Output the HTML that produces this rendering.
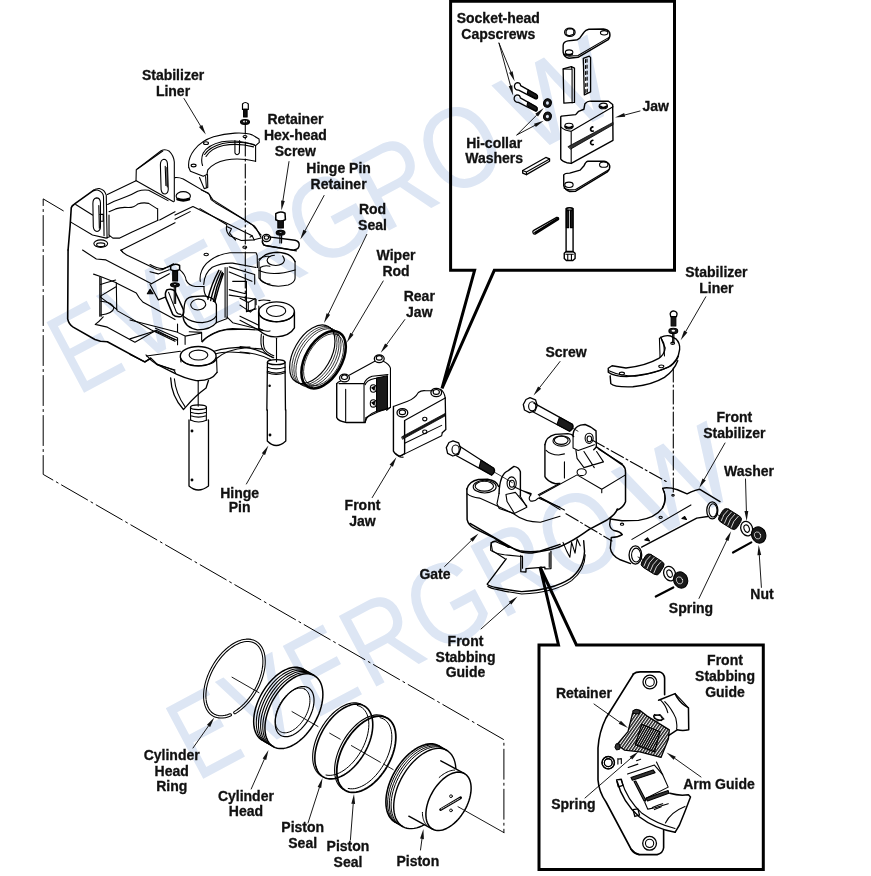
<!DOCTYPE html>
<html><head><meta charset="utf-8">
<style>
html,body{margin:0;padding:0;background:#fff;}
body{width:871px;height:876px;overflow:hidden;}
svg{display:block;}
#art *{vector-effect:non-scaling-stroke;}
.t{font-family:"Liberation Sans",sans-serif;font-weight:bold;font-size:14px;fill:#111;stroke:#111;stroke-width:0.3px;text-anchor:middle;}
.wm{font-family:"Liberation Sans",sans-serif;font-size:116px;fill:rgb(221,230,244);mix-blend-mode:multiply;}
</style></head><body>
<svg width="871" height="876" viewBox="0 0 871 876">
<defs>
<pattern id="hatchA" patternUnits="userSpaceOnUse" width="2.5" height="2.5" patternTransform="rotate(35)"><rect width="2.5" height="2.5" fill="#fff"/><rect width="1.4" height="2.5" fill="#1a1a1a"/></pattern>
<pattern id="hatchB" patternUnits="userSpaceOnUse" width="2.1" height="2.1" patternTransform="rotate(30)"><rect width="2.1" height="2.1" fill="#fff"/><rect width="1.5" height="2.1" fill="#111"/></pattern>
</defs>
<g id="art" fill="none" stroke="#000" stroke-width="1.1" stroke-linejoin="round" stroke-linecap="round">
<g transform="translate(55.0 140.0) scale(0.137773)">
<path d="M95,798 L110,620 L118,492 Q122,476 140,466 L282,364" stroke-width="1.6"/>
<path d="M272,372 Q292,350 322,352 Q360,360 372,400 L378,712"/>
<path d="M282,368 Q305,360 318,366 Q350,380 352,410 L356,695"/>
<path d="M300,420 Q275,425 275,460 L278,630 Q282,662 305,664 Q330,660 330,630 L330,455 Q328,420 300,420 Z"/>
<path d="M318,475 L322,640 M328,540 L350,540 L350,590 L330,590"/>
<path d="M150,468 L272,545"/>
<path d="M118,598 L272,690 L372,712 L400,700"/>
<ellipse cx="332" cy="752" rx="50" ry="27"/>
<ellipse cx="332" cy="760" rx="30" ry="13"/>
<path d="M380,395 L588,296"/>
<path d="M588,296 L590,215 L770,78 Q800,62 830,82 Q862,112 866,160 L866,445"/>
<path d="M598,210 L782,80"/>
<path d="M790,140 Q765,145 765,180 L770,360 Q775,392 800,392 Q822,386 822,356 L816,170 Q812,140 790,140 Z"/>
<path d="M800,190 L805,330 M812,200 L815,340"/>
<path d="M590,296 L860,448"/>
<path d="M382,468 L430,445 Q470,430 520,410 Q560,395 600,372 Q640,358 680,365 L820,440"/>
<path d="M392,520 L440,500 Q480,485 530,490 Q570,492 600,465 Q640,450 680,460 L740,498"/>
<path d="M745,498 L745,580 M392,545 L392,690"/>
<path d="M392,690 L420,712 L470,712 L560,668 L748,582"/>
<path d="M760,580 L871,520"/>
<path d="M478,800 L700,690 L871,600"/>
<path d="M478,800 L490,812"/>
</g>
<g transform="translate(175.0 120.0) scale(0.137773)">
<path d="M100,345 C88,260 160,160 280,122 C380,92 500,86 560,108 L610,138 L612,162 L585,186 L585,300"/>
<path d="M585,186 Q470,140 340,158 Q240,180 205,240 Q185,285 200,330"/>
<path d="M575,178 Q460,150 345,170 Q250,195 215,250"/>
<path d="M570,195 Q460,165 350,185 Q260,205 225,265"/>
<path d="M585,300 Q470,272 370,290 Q280,308 238,362 L232,395"/>
<path d="M100,345 L112,372 L205,408 L232,395"/>
<path d="M178,418 L212,498 L238,490 L236,396"/>
<path d="M222,410 L228,490"/>
<ellipse cx="225" cy="168" rx="18" ry="10"/>
<ellipse cx="135" cy="330" rx="18" ry="10"/>
<ellipse cx="508" cy="120" rx="14" ry="8"/>
<path d="M435,150 L435,240 Q450,265 467,240 L469,150"/>
<path d="M0,418 Q30,415 60,428 L250,540 L262,578 L292,600 L500,722 L565,765 L625,835"/>
<ellipse cx="60" cy="552" rx="52" ry="32"/>
<path d="M20,575 Q60,590 100,575" stroke-width="3"/>
<path d="M0,690 L130,628 L560,840"/>
<path d="M0,720 L110,665"/>
<path d="M545,850 L560,840 L575,871"/>
<path d="M380,775 L410,790 L395,820 L420,850 L440,871"/>
</g>
<g transform="translate(200.0 190.0) scale(0.137773)">
<path d="M10,0 L60,22 L92,70 L380,252 Q396,258 410,282 L442,342"/>
<path d="M0,135 L195,252 Q182,300 215,332 L300,366 L390,362 L442,348"/>
<ellipse cx="45" cy="468" rx="16" ry="9"/>
<ellipse cx="325" cy="415" rx="14" ry="8"/>
<path d="M550,172 Q582,148 617,168 L620,215 Q585,236 550,216 Z" stroke-width="1.5"/>
<path d="M565,225 L565,275 L605,275 L605,222" fill="#111"/>
<ellipse cx="585" cy="310" rx="32" ry="18" fill="#111"/>
<ellipse cx="585" cy="308" rx="14" ry="7" fill="#fff"/>
<path d="M580,330 L580,385 M592,330 L592,385"/>
<path d="M500,340 L690,365 Q720,372 720,398 Q720,432 680,436 L480,405 Q450,395 452,368" stroke-width="1.4"/>
<path d="M455,380 L462,400 L700,442"/>
<ellipse cx="482" cy="348" rx="30" ry="26" stroke-width="1.4"/>
<ellipse cx="482" cy="345" rx="16" ry="13"/>
<path d="M430,510 Q470,455 560,452 Q660,455 690,520" stroke-width="1.3"/>
<path d="M600,478 Q613,495 613,511 Q605,545 550,548 Q490,545 487,511 Q492,478 540,474"/>
<path d="M428,520 L428,640 Q500,720 640,690 Q690,670 690,640 L690,520"/>
<path d="M428,585 Q530,630 690,580"/>
</g>
<g transform="translate(55.0 250.0) scale(0.137773)">
<path d="M95,0 L92,500 Q100,540 132,560 L290,650 L330,662 L380,666 L650,812 L690,790" stroke-width="1.6"/>
<path d="M200,0 Q260,40 300,65 L370,72 L600,192 L700,245"/>
<path d="M480,0 Q490,22 520,36 L740,142 Q770,152 800,132 L860,100"/>
<path d="M280,175 L330,192 L445,238 L448,432"/>
<path d="M325,195 L325,480 M335,200 L335,480"/>
<path d="M330,250 Q390,232 440,218 M330,335 L440,268 M330,342 L450,432"/>
<path d="M332,372 Q420,380 428,420 Q420,462 332,472"/>
<path d="M450,440 L700,580 L871,662"/>
<path d="M445,240 L590,312 Q610,352 640,380 L871,505"/>
<path d="M350,485 Q320,520 292,540 L380,560 L580,670 L735,582 L871,652"/>
<path d="M700,245 L830,172 M690,250 L750,362 L800,342"/>
<path d="M670,318 L690,285 L712,318 Z" fill="#111"/>
<path d="M660,762 L700,802 L740,832 L871,871"/>
</g>
<g transform="translate(130.0 300.0) scale(0.137773)">
<ellipse cx="495" cy="408" rx="130" ry="70" stroke-width="1.4"/>
<path d="M366,420 Q380,470 497,478 Q615,470 628,425"/>
<ellipse cx="497" cy="400" rx="68" ry="36"/>
<path d="M366,415 L370,450 M628,420 L632,525"/>
<path d="M0,282 L180,225 L342,292"/>
<path d="M0,395 L110,450 L150,420 L200,470 L300,520 Q390,568 480,585 Q590,590 632,525" stroke-width="1.3"/>
<path d="M120,407 L366,372"/>
<path d="M190,462 L320,510 L330,530"/>
<path d="M295,565 Q300,700 388,795 L414,767 Q470,700 552,639 L570,583" stroke-width="1.3"/>
<path d="M322,572 Q332,680 398,772"/>
<path d="M495,590 L495,770"/>
<ellipse cx="497" cy="778" rx="58" ry="17" stroke-width="1.3"/>
<path d="M439,778 L440,871 M555,778 L554,871 M441,815 Q497,835 553,815 M441,840 Q497,860 553,840"/>
<path d="M0,145 L340,232"/>
<path d="M345,175 L345,235 L400,262 L400,322 M400,262 L520,240 L520,292 M430,230 L520,235"/>
<path d="M520,300 Q600,232 700,215 L871,212"/>
<path d="M610,372 Q700,342 871,342 M625,390 Q700,365 871,390"/>
</g>
<g transform="translate(150.0 240.0) scale(0.137773)">
<path d="M0,178 Q60,212 100,206 L150,188"/>
<path d="M0,230 L60,246 L140,216"/>
<path d="M150,190 Q180,165 215,185 L215,215 Q180,232 150,215 Z" stroke-width="1.5"/>
<path d="M165,225 L165,298 L200,298 L200,222 Z" fill="#111"/>
<ellipse cx="181" cy="325" rx="32" ry="15" fill="#111"/>
<ellipse cx="181" cy="322" rx="14" ry="6" fill="#fff"/>
<path d="M125,360 Q105,380 115,420 L165,540 Q185,562 225,556 Q252,540 240,500 L180,370 Q160,350 125,360 Z" stroke-width="1.5"/>
<path d="M135,380 L190,520 Q200,540 225,540"/>
<path d="M176,340 L176,460 M186,340 L186,460"/>
<path d="M215,215 Q258,250 262,292 Q280,332 330,337 L392,337"/>
<path d="M365,300 Q355,230 410,170 Q480,105 580,92 L770,92 L778,112 L780,200"/>
<path d="M390,322 Q395,240 452,198 Q520,165 600,168 L770,200"/>
<path d="M392,337 L392,360 Q395,400 420,420"/>
<path d="M420,430 Q445,320 500,220 M440,440 Q465,330 515,225 M460,445 Q480,340 525,235 M470,450 Q495,350 532,245" stroke-width="1.4"/>
<path d="M545,200 L545,560 M560,200 L560,560"/>
<path d="M250,470 Q255,420 305,412 L390,405 Q468,412 482,470 L482,600 Q440,652 345,652 Q250,635 240,560 Z" stroke-width="1.3"/>
<path d="M295,470 Q300,440 340,430 Q400,425 405,470 Q395,505 345,508 Q300,505 295,470"/>
<path d="M245,555 Q300,600 380,600 Q460,590 482,550"/>
<path d="M480,600 L560,570 L560,560"/>
<path d="M575,195 L760,250 L760,320 M575,232 L740,300 M575,360 L700,392 L700,520 M600,300 L700,300 L700,392 M575,400 L770,430 L770,470 M700,520 L770,500"/>
<path d="M380,740 Q450,652 600,642 L820,655 M480,862 Q560,792 700,782 L820,792"/>
<path d="M560,560 L600,600 L820,655"/>
<path d="M790,440 Q820,430 871,440 M790,480 L790,640 Q830,670 871,660"/>
<path d="M790,140 Q830,110 871,120 M800,200 Q830,180 871,190 M800,200 L800,290 Q830,320 871,320"/>
<path d="M40,640 L200,712 L200,760"/>
</g>
<g transform="translate(240.0 290.0) scale(0.137773)">
<ellipse cx="265" cy="158" rx="130" ry="72" stroke-width="1.4"/>
<path d="M137,170 Q150,220 265,230 Q380,222 393,170"/>
<ellipse cx="262" cy="152" rx="70" ry="40"/>
<path d="M135,160 L137,292 Q200,345 265,340 Q360,335 395,275 L395,160" stroke-width="1.4"/>
<path d="M0,60 L60,90 L110,62 L110,130 L75,160 M60,90 L60,150 L75,160"/>
<path d="M0,110 L60,150 M0,190 L135,255 M0,220 L135,290"/>
<path d="M155,320 Q145,400 165,432 Q190,470 245,492"/>
<path d="M170,335 Q165,400 180,430 Q200,460 245,478"/>
<path d="M0,410 Q120,420 240,492"/>
<path d="M0,450 Q120,455 220,505"/>
<path d="M265,350 L265,520"/>
<ellipse cx="263" cy="524" rx="64" ry="18" stroke-width="1.3"/>
<path d="M199,524 L199,545 L195,871 M327,524 L327,545 L330,871" stroke-width="1.3"/>
<path d="M198,560 Q262,585 328,560 M198,590 Q262,615 328,590 M198,600 Q262,625 328,600"/>
<circle cx="215" cy="695" r="5" fill="#111"/>
</g>
<g transform="translate(0.0 0.0) scale(1.000000)">
<path d="M189,420 L189,486 Q198,494 208.5,486 L208.5,420" stroke-width="1.3"/>
<path d="M190.5,420 Q198.5,424 207,420" />
<circle cx="192" cy="431" r="0.9" fill="#111"/>
<circle cx="192" cy="480" r="0.9" fill="#111"/>
<path d="M267.3,410 L267.3,441 Q276,450 285.8,441 L285.8,410" stroke-width="1.3"/>
<circle cx="270" cy="435" r="0.9" fill="#111"/>
<path d="M242.5,104 Q245.3,101 248.3,104 L248.3,109.4 L242.5,109.4 Z" stroke-width="1.2"/>
<path d="M243.6,109.4 L243.6,117 L247.1,117 L247.1,109.4 Z" fill="#111"/>
<ellipse cx="245" cy="122" rx="4.5" ry="2.5" fill="#111"/>
<ellipse cx="245" cy="121.6" rx="2" ry="1" fill="#fff" stroke="none"/>
</g>
<g transform="translate(0.0 0.0) scale(1.000000)">
<g transform="rotate(-60 312.3 354.3)">
<ellipse cx="312.3" cy="354.3" rx="32.1" ry="18.5" stroke-width="1.2"/>
</g>
<g transform="rotate(-60 314.5 355.5)"><ellipse cx="314.5" cy="355.5" rx="32" ry="18.5" stroke-width="0.8"/></g>
<g transform="rotate(-60 316.5 356.7)"><ellipse cx="316.5" cy="356.7" rx="32" ry="18.5" stroke-width="0.8"/></g>
<g transform="rotate(-60 318.5 357.8)"><ellipse cx="318.5" cy="357.8" rx="32" ry="18.5" stroke-width="0.8"/></g>
<g transform="rotate(-60 323.6 359.7)">
<ellipse cx="323.6" cy="359.7" rx="31.4" ry="18.1" stroke-width="2.6"/>
<ellipse cx="323.6" cy="359.7" rx="28.6" ry="16.2" stroke-width="0.8"/>
</g>
</g>
<g transform="translate(330.0 340.0) scale(0.149254)">
<path d="M45,292 L45,520 Q55,546 110,553 L235,553 L242,520" stroke-width="1.4"/>
<path d="M45,292 Q55,278 70,276"/>
<ellipse cx="97" cy="254" rx="33" ry="26" stroke-width="1.3"/>
<ellipse cx="97" cy="250" rx="20" ry="15"/>
<ellipse cx="330" cy="125" rx="33" ry="26" stroke-width="1.3"/>
<ellipse cx="330" cy="120" rx="20" ry="15"/>
<path d="M128,236 L300,142"/>
<path d="M355,140 Q398,160 405,188 L405,450 L380,472"/>
<path d="M60,292 L228,292 Q240,258 282,243 L388,232"/>
<path d="M235,300 Q245,270 300,258 L385,250"/>
<path d="M312,255 L385,240 L385,462 L312,478 Z" fill="#1a1a1a"/>
<path d="M105,330 L105,545 M228,292 L228,553"/>
<ellipse cx="290" cy="325" rx="20" ry="25"/>
<ellipse cx="290" cy="425" rx="20" ry="25"/>
<path d="M280,320 L298,312 L296,335 Z M280,420 L298,412 L296,435 Z" fill="#111"/>
<path d="M242,520 L320,482 L405,452"/>
<path d="M235,553 Q242,505 312,478"/>
<path d="M425,445 L425,745 Q440,772 470,778 L500,762 L500,540" stroke-width="1.4"/>
<path d="M425,445 L520,410 Q570,392 592,352 Q612,336 642,340 L692,340"/>
<path d="M500,540 L772,388"/>
<path d="M470,778 L748,642 L752,622"/>
<path d="M772,388 L776,600 L752,622" stroke-width="1.3"/>
<path d="M740,330 Q765,345 772,388"/>
<path d="M482,648 L772,492 L772,508 L488,664 Z" fill="#1a1a1a" stroke-width="0.8"/>
<path d="M500,692 L748,572"/>
<ellipse cx="635" cy="530" rx="14" ry="12"/>
<ellipse cx="635" cy="615" rx="14" ry="12"/>
<ellipse cx="485" cy="488" rx="36" ry="28" stroke-width="1.3"/>
<ellipse cx="485" cy="484" rx="21" ry="16"/>
<ellipse cx="712" cy="352" rx="36" ry="28" stroke-width="1.3"/>
<ellipse cx="712" cy="348" rx="21" ry="16"/>
<path d="M440,760 Q460,790 490,785"/>
</g>
<g transform="translate(490.0 20.0) scale(0.149254)">
<path d="M490,172 L490,215 Q495,250 530,256 L590,250 L792,132 Q808,112 802,86 Q792,62 760,60 L662,62 Q640,66 630,82 L602,120 Q586,136 560,136 L522,140 Q490,146 490,172 Z" stroke-width="1.4"/>
<path d="M495,225 Q500,240 530,242 L590,238 L795,118"/>
<ellipse cx="530" cy="216" rx="25" ry="16"/>
<ellipse cx="765" cy="86" rx="25" ry="15"/>
<path d="M510,230 Q530,238 550,228" stroke-width="2"/>
<ellipse cx="535" cy="82" rx="35" ry="28" stroke-width="1.3"/>
<path d="M510,75 L520,60 L550,58 L562,72 L560,95 L530,106 L510,98 Z"/>
<path d="M490,328 L545,312 L566,322 L566,552 L495,557 Z" stroke-width="1.3"/>
<path d="M490,328 L550,330 L550,555 M545,312 L550,330"/>
<path d="M625,257 L665,242 L674,252 L674,482 L632,502 Z" stroke-width="1.3"/>
<path d="M640,265 L642,490 M650,262 L652,485" stroke-dasharray="3 3"/>
<path d="M182,420 Q162,425 164,450 Q170,472 192,470 L305,528 Q322,530 318,510 L310,498 L205,440 Q205,422 182,420 Z" stroke-width="1.3"/>
<path d="M255,468 L318,505 L312,528 L250,492 Z" fill="#1a1a1a"/>
<path d="M180,502 Q160,507 162,532 Q168,554 190,552 L303,610 Q320,612 316,592 L308,580 L203,522 Q203,504 180,502 Z" stroke-width="1.3"/>
<path d="M253,550 L316,587 L310,610 L248,574 Z" fill="#1a1a1a"/>
<ellipse cx="385" cy="556" rx="26" ry="29" fill="#1a1a1a" transform="rotate(20 385 556)"/>
<ellipse cx="385" cy="556" rx="10" ry="12" fill="#fff" stroke="none"/>
<ellipse cx="385" cy="646" rx="26" ry="29" fill="#1a1a1a" transform="rotate(20 385 646)"/>
<ellipse cx="385" cy="646" rx="10" ry="12" fill="#fff" stroke="none"/>
</g>
<g transform="translate(510.0 100.0) scale(0.149254)">
<path d="M345,108 L440,98 L460,76 L495,62 L502,25 Q520,5 542,8 L660,8 L688,30 L690,270 L410,425 L380,420 Q348,410 340,395 L340,112 Z" stroke-width="1.4"/>
<path d="M340,180 Q368,206 410,210 L690,45 M410,210 L410,425"/>
<ellipse cx="395" cy="175" rx="28" ry="19"/>
<path d="M372,178 Q395,195 418,178" stroke-width="2"/>
<ellipse cx="625" cy="40" rx="28" ry="19"/>
<path d="M602,43 Q625,60 648,43" stroke-width="2"/>
<path d="M390,312 L690,150 L690,166 L408,328 Z" fill="#333" stroke-width="0.8"/>
<path d="M555,180 Q538,185 540,200 Q545,212 558,208 M555,270 Q538,275 540,290 Q545,302 558,298" stroke-width="1.6"/>
<path d="M85,472 L240,385 L265,395 L265,410 L110,500 L85,490 Z" stroke-width="1.3"/>
<path d="M85,472 L110,482 L265,395 M110,482 L110,500"/>
<path d="M360,502 L360,575 Q370,606 400,613 L440,611 L652,482 Q672,462 668,440 Q660,415 630,410 L522,410 Q506,415 496,440 L470,470 L400,490 Q368,490 360,502 Z" stroke-width="1.4"/>
<path d="M362,590 Q380,602 400,602 L440,600 L664,466"/>
<ellipse cx="395" cy="568" rx="28" ry="18"/>
<ellipse cx="628" cy="433" rx="28" ry="18"/>
</g>
<g transform="translate(520 190) scale(0.091827)">
<path d="M502,205 L502,670 L578,670 L578,205 Q540,185 502,205 Z" stroke-width="1.4"/>
<ellipse cx="540" cy="205" rx="38" ry="14"/>
<path d="M505,225 L530,225 L530,410 L505,410 Z M550,225 L575,225 L575,410 L550,410 Z" fill="#1a1a1a"/>
<path d="M482,690 L500,672 L580,672 L600,690 L600,745 L575,768 L505,768 L482,745 Z" stroke-width="1.4"/>
<path d="M500,700 L580,700 M520,705 L520,765 M560,705 L560,765"/>
<path d="M140,450 Q140,485 165,480 L420,320 Q425,295 400,298 L150,440 Z" stroke-width="1.3"/>
<path d="M165,465 L410,312" stroke-width="2.2"/>
</g>
<g transform="translate(595.0 295.0) scale(0.126292)">
<path d="M105,580 L135,560 L245,578 Q400,562 505,502 Q550,472 555,420 L520,335 Q560,315 600,325 L640,347 Q676,382 670,432 Q660,522 580,572 Q450,632 250,646 Q150,646 105,612 Z" stroke-width="1.4"/>
<path d="M120,640 L125,702 Q150,732 300,727 Q450,712 550,652 Q625,600 655,520" stroke-width="1.4"/>
<path d="M110,600 Q200,642 320,642 Q480,622 600,562 Q650,522 662,482"/>
<path d="M510,340 L515,492 M545,382 L550,482 M520,335 L545,382"/>
<ellipse cx="213" cy="622" rx="20" ry="11"/>
<ellipse cx="525" cy="565" rx="20" ry="11"/>
<ellipse cx="615" cy="382" rx="15" ry="9"/>
<path d="M595,150 Q600,125 622,125 Q648,128 650,150 L645,172 L600,172 Z" stroke-width="1.3"/>
<path d="M603,172 L603,245 L640,245 L640,172 Z" fill="#1a1a1a"/>
<ellipse cx="620" cy="285" rx="35" ry="22" fill="#1a1a1a"/>
<ellipse cx="620" cy="283" rx="14" ry="8" fill="#fff" stroke="none"/>
<path d="M615,300 L615,380 M625,300 L625,380"/>
</g>
<g transform="translate(460.0 460.0) scale(0.114811)">
<path d="M60,252 Q80,185 160,170 L240,168 Q318,180 336,230" stroke-width="1.4"/>
<ellipse cx="215" cy="232" rx="100" ry="55"/>
<ellipse cx="212" cy="228" rx="80" ry="43"/>
<path d="M60,252 L62,520 Q74,572 125,595 L300,680 Q400,755 520,790 Q610,806 700,792 L871,735" stroke-width="1.5"/>
<path d="M64,295 Q95,322 170,332 L330,402 L470,470 Q560,540 700,542 L871,490"/>
<path d="M340,292 Q345,122 420,92 L470,56 Q512,62 526,102 L526,312" stroke-width="1.4"/>
<ellipse cx="450" cy="202" rx="40" ry="55"/>
<ellipse cx="452" cy="206" rx="22" ry="30"/>
<path d="M340,292 L322,382 L342,422 L472,466 L582,412 L522,312"/>
<path d="M400,300 L410,362 L472,462 M400,300 L482,282 L582,402"/>
<path d="M470,232 L620,302 Q590,332 612,356 Q652,366 682,332 L871,412 M526,262 L620,292"/>
<path d="M682,302 L871,202 M692,322 L871,432"/>
<path d="M270,720 L282,790 L392,860 M270,720 Q300,700 332,706 L422,762"/>
</g>
<g transform="translate(530 410) scale(0.114811)">
<path d="M130,302 Q140,232 220,212 L330,206 Q368,210 380,232" stroke-width="1.4"/>
<ellipse cx="275" cy="270" rx="75" ry="45"/>
<ellipse cx="272" cy="264" rx="60" ry="35"/>
<path d="M130,302 L130,580 Q150,622 222,642 L255,640" stroke-width="1.4"/>
<path d="M140,352 Q180,392 250,392 L300,382 M300,452 L300,592"/>
<path d="M375,212 Q380,152 440,132 L480,126 Q530,142 575,182 L578,322 L555,347" stroke-width="1.4"/>
<path d="M375,212 L375,332 L420,352 L560,302"/>
<ellipse cx="515" cy="247" rx="35" ry="45"/>
<ellipse cx="517" cy="252" rx="20" ry="25"/>
<path d="M400,352 L410,422 L470,502 L640,452 L580,362 M470,362 L560,502"/>
<ellipse cx="450" cy="542" rx="40" ry="30"/>
<path d="M578,322 L810,482 Q832,502 832,542 L832,800 Q812,852 760,871" stroke-width="1.5"/>
<path d="M600,342 L805,470"/>
<path d="M80,745 L410,565 L625,690 L625,720 M90,762 L300,871 M625,690 L832,565"/>
</g>
<g transform="translate(470 520) scale(0.172216)">
<path d="M0,20 L270,176 Q310,196 360,191 L470,171 Q560,151 690,56" stroke-width="1.5"/>
<path d="M120,150 Q122,122 150,126 L230,160 M120,150 L120,176 Q140,192 200,202 L300,212"/>
<path d="M100,372 L210,226 M100,372 Q110,392 300,416 Q480,406 580,342 Q660,282 665,182 L660,120" stroke-width="1.4"/>
<path d="M104,386 Q122,402 300,430 Q490,422 590,352 Q666,292 669,202"/>
<path d="M295,206 L295,300 L325,302 L325,282 L435,274 L435,284 L470,282 L470,182" stroke-width="1.3"/>
<path d="M305,210 L305,280 M460,190 L460,275"/>
<path d="M540,130 L562,182 L580,216 L590,130 L610,192 L622,110 L640,150"/>
</g>
<g transform="translate(0.0 0.0) scale(1.000000)">
<path d="M526,399.5 L530,397.7 L535.5,399.8 L537.2,405.5 L535,411 L529.5,412.6 L524.5,410 L523.3,404.5 Z" stroke-width="1.3"/>
<ellipse cx="532.2" cy="406.3" rx="3.6" ry="4.6"/>
<path d="M533.9,403.1 L572.5,424.4 Q574.8,428.2 569.7,431.2 L532.3,411.5" stroke-width="1.2"/>
<path d="M559.5,417.3 L572.5,424.4 Q573.5,428 569.7,431.2 L557,424.4 Z" fill="#1a1a1a"/>
<path d="M573.5,428.7 L578,431.2" stroke-width="0.8"/>
<path d="M449,442.5 L453,440.8 L458.6,442.8 L460.6,448.5 L458.5,454.3 L452.8,456 L447.6,453.4 L446.3,447.6 Z" stroke-width="1.3"/>
<ellipse cx="455.6" cy="449.6" rx="3.6" ry="4.6"/>
<path d="M459.3,446.1 L493.7,468.2 Q496.3,472 491.7,475.1 L456.5,455.8" stroke-width="1.2"/>
<path d="M481,460.2 L493.7,468.2 Q495,472 491.7,475.1 L479,467.8 Z" fill="#1a1a1a"/>
<path d="M495,472.5 L512.3,482.6" stroke-width="0.8"/>
<path d="M588.8,529.6 L607,520 Q616,514 617.3,509" stroke-width="1.5"/>
</g>
<g transform="translate(0.0 0.0) scale(1.000000)">
<g transform="translate(730 519) rotate(32)">
<rect x="-10.5" y="-7.5" width="21" height="15" rx="4" fill="#1a1a1a" stroke-width="1"/>
<path d="M-6.5,-6 Q-8.5,0 -6.5,6 M-2.5,-6.5 Q-4.5,0 -2.5,6.5 M1.5,-6.5 Q-0.5,0 1.5,6.5 M5.5,-6.5 Q3.5,0 5.5,6.5" stroke="#fff" stroke-width="0.8"/>
</g>
<g transform="translate(652.6 564.4) rotate(32)">
<rect x="-10.5" y="-7.5" width="21" height="15" rx="4" fill="#1a1a1a" stroke-width="1"/>
<path d="M-6.5,-6 Q-8.5,0 -6.5,6 M-2.5,-6.5 Q-4.5,0 -2.5,6.5 M1.5,-6.5 Q-0.5,0 1.5,6.5 M5.5,-6.5 Q3.5,0 5.5,6.5" stroke="#fff" stroke-width="0.8"/>
</g>
<g transform="rotate(-20 746.7 528.6)"><ellipse cx="746.7" cy="528.6" rx="5.8" ry="7.4" stroke-width="1.3"/><ellipse cx="746.7" cy="528.6" rx="2.6" ry="3.8"/></g>
<g transform="rotate(-20 669.6 573.6)"><ellipse cx="669.6" cy="573.6" rx="5.8" ry="7.4" stroke-width="1.3"/><ellipse cx="669.6" cy="573.6" rx="2.6" ry="3.8"/></g>
<g transform="rotate(-20 758.7 535)"><ellipse cx="758.7" cy="535" rx="7" ry="8.2" fill="#1a1a1a"/><ellipse cx="757.5" cy="535" rx="3" ry="3.6" stroke="#fff" stroke-width="0.7"/></g>
<g transform="rotate(-20 680.6 580)"><ellipse cx="680.6" cy="580" rx="7" ry="8.2" fill="#1a1a1a"/><ellipse cx="679.5" cy="580" rx="3" ry="3.6" stroke="#fff" stroke-width="0.7"/></g>
<path d="M733,552.5 L751.3,542.4" stroke-width="2.2"/>
<path d="M655.8,596.5 L673.3,587.4" stroke-width="2.2"/>
<path d="M716,514 L722,517 M638,557 L644,560" stroke-width="0.8"/>
</g>
<g transform="translate(600.0 460.0) scale(0.137773)">
<path d="M455,206 Q492,282 456,346 Q400,422 280,438 L160,441 L75,428" stroke-width="1.4"/>
<path d="M455,206 Q470,198 520,204 L562,216 L632,246 Q662,230 692,220 L722,212 L871,302" stroke-width="1.4"/>
<path d="M466,228 Q482,300 450,350"/>
<path d="M75,428 L70,470 Q75,502 102,512 Q150,522 162,542 Q130,562 82,562 L75,640 Q82,692 142,722 L222,752" stroke-width="1.4"/>
<path d="M302,632 L702,422 L782,410" stroke-width="1.4"/>
<path d="M232,576 L660,326"/>
<ellipse cx="815" cy="366" rx="40" ry="62" stroke-width="1.3"/>
<ellipse cx="820" cy="366" rx="29" ry="48"/>
<ellipse cx="257" cy="690" rx="46" ry="66" stroke-width="1.3"/>
<ellipse cx="262" cy="690" rx="33" ry="50"/>
<ellipse cx="160" cy="466" rx="12" ry="8"/>
<ellipse cx="440" cy="416" rx="12" ry="8"/>
<ellipse cx="530" cy="256" rx="9" ry="6"/>
<path d="M325,580 L345,565 L360,588 Z M595,425 L615,410 L628,432 Z" fill="#111"/>
</g>
<g transform="translate(0.0 0.0) scale(1.000000)">
<path d="M230.26,714.94 L227.71,715.87 L225.20,716.51 L222.77,716.86 L220.43,716.92 L218.19,716.69 L216.08,716.17 L214.11,715.35 L212.29,714.26 L210.64,712.89 L209.18,711.26 L207.91,709.38 L206.84,707.27 L205.98,704.94 L205.34,702.40 L204.92,699.68 L204.72,696.80 L204.76,693.78 L205.02,690.65 L205.51,687.42 L206.21,684.13 L207.14,680.79 L208.27,677.44 L209.60,674.09 L211.12,670.78 L212.82,667.53 L214.68,664.36 L216.70,661.31 L218.85,658.38 L221.12,655.61 L223.49,653.02 L225.95,650.62 L228.47,648.44 L231.03,646.49 L233.62,644.78 L236.22,643.33 L238.80,642.15 L241.35,641.25 L243.85,640.64 L246.27,640.32 L248.61,640.29 L250.83,640.55 L252.93,641.10 L254.89,641.95 L256.69,643.07 L258.32,644.46 L259.76,646.12 L261.01,648.02 L262.06,650.16 L262.90,652.52 L263.52,655.07 L263.91,657.81 L264.08,660.70 L264.02,663.73 L263.74,666.88 L263.23,670.11 L262.50,673.41 L261.56,676.75 L260.41,680.11 L259.05,683.45 L257.51,686.76 L255.80,690.00 L253.92,693.15 L251.89,696.20 L249.72,699.11 L247.44,701.86 L245.06,704.44 L242.60,706.81 L240.07,708.97 L237.50,710.90 L234.91,712.58" stroke-width="3.4" />
<path d="M230.26,714.94 L227.71,715.87 L225.20,716.51 L222.77,716.86 L220.43,716.92 L218.19,716.69 L216.08,716.17 L214.11,715.35 L212.29,714.26 L210.64,712.89 L209.18,711.26 L207.91,709.38 L206.84,707.27 L205.98,704.94 L205.34,702.40 L204.92,699.68 L204.72,696.80 L204.76,693.78 L205.02,690.65 L205.51,687.42 L206.21,684.13 L207.14,680.79 L208.27,677.44 L209.60,674.09 L211.12,670.78 L212.82,667.53 L214.68,664.36 L216.70,661.31 L218.85,658.38 L221.12,655.61 L223.49,653.02 L225.95,650.62 L228.47,648.44 L231.03,646.49 L233.62,644.78 L236.22,643.33 L238.80,642.15 L241.35,641.25 L243.85,640.64 L246.27,640.32 L248.61,640.29 L250.83,640.55 L252.93,641.10 L254.89,641.95 L256.69,643.07 L258.32,644.46 L259.76,646.12 L261.01,648.02 L262.06,650.16 L262.90,652.52 L263.52,655.07 L263.91,657.81 L264.08,660.70 L264.02,663.73 L263.74,666.88 L263.23,670.11 L262.50,673.41 L261.56,676.75 L260.41,680.11 L259.05,683.45 L257.51,686.76 L255.80,690.00 L253.92,693.15 L251.89,696.20 L249.72,699.11 L247.44,701.86 L245.06,704.44 L242.60,706.81 L240.07,708.97 L237.50,710.90 L234.91,712.58" stroke-width="1.3" stroke="#fff"/>
<path d="M314.40,675.69 L316.11,676.86 L317.65,678.29 L319.00,679.97 L320.17,681.88 L321.14,684.02 L321.90,686.37 L322.44,688.90 L322.77,691.60 L322.88,694.46 L322.77,697.44 L322.44,700.52 L321.89,703.69 L321.13,706.91 L320.16,710.17 L318.99,713.44 L317.64,716.68 L316.10,719.89 L314.39,723.03 L312.52,726.08 L310.52,729.01 L308.38,731.82 L306.14,734.46 L303.80,736.93 L301.39,739.20 L298.92,741.25 L296.42,743.08 L293.89,744.67 L291.36,746.00 L288.86,747.07 L286.39,747.86 L283.98,748.38 L281.64,748.61 L279.40,748.56 L277.27,748.22 L275.26,747.60 L273.40,746.71 L271.69,745.54 L270.15,744.11 L268.80,742.43 L267.63,740.52 L266.66,738.38 L265.90,736.03 L265.36,733.50 L265.03,730.80 L264.92,727.94 L265.03,724.96 L265.36,721.88 L265.91,718.71 L266.67,715.49 L267.64,712.23 L268.81,708.96 L270.16,705.72 L271.70,702.51 L273.41,699.37 L275.28,696.32 L277.28,693.39 L279.42,690.58 L281.66,687.94 L284.00,685.47 L286.41,683.20 L288.88,681.15 L291.38,679.32 L293.91,677.73 L296.44,676.40 L298.94,675.33 L301.41,674.54 L303.82,674.02 L306.16,673.79 L308.40,673.84 L310.53,674.18 L312.54,674.80 L314.40,675.69 Z" stroke-width="1.5" />
<path d="M271.23,745.46 L269.53,744.29 L267.99,742.86 L266.63,741.18 L265.46,739.27 L264.50,737.13 L263.74,734.78 L263.19,732.25 L262.86,729.55 L262.75,726.69 L262.86,723.71 L263.19,720.63 L263.74,717.46 L264.50,714.24 L265.47,710.98 L266.64,707.71 L268.00,704.47 L269.54,701.26 L271.25,698.12 L273.11,695.07 L275.12,692.14 L277.25,689.33 L279.49,686.69 L281.83,684.22 L284.24,681.95 L286.71,679.90 L289.22,678.07 L291.74,676.48 L294.27,675.15 L296.78,674.08 L299.25,673.29 L301.66,672.77 L303.99,672.54 L306.23,672.59 L308.37,672.93 L310.37,673.55 L312.23,674.44" stroke-width="1.1" />
<path d="M269.07,744.21 L267.36,743.04 L265.82,741.61 L264.47,739.93 L263.30,738.02 L262.33,735.88 L261.57,733.53 L261.03,731.00 L260.70,728.30 L260.59,725.44 L260.70,722.46 L261.03,719.38 L261.58,716.21 L262.34,712.99 L263.31,709.73 L264.48,706.46 L265.83,703.22 L267.37,700.01 L269.08,696.87 L270.95,693.82 L272.95,690.89 L275.09,688.08 L277.33,685.44 L279.67,682.97 L282.08,680.70 L284.55,678.65 L287.05,676.82 L289.58,675.23 L292.11,673.90 L294.61,672.83 L297.08,672.04 L299.49,671.52 L301.83,671.29 L304.07,671.34 L306.20,671.68 L308.21,672.30 L310.07,673.19" stroke-width="1.1" />
<path d="M266.90,742.96 L265.20,741.79 L263.66,740.36 L262.30,738.68 L261.13,736.77 L260.17,734.63 L259.41,732.28 L258.86,729.75 L258.53,727.05 L258.42,724.19 L258.53,721.21 L258.86,718.13 L259.41,714.96 L260.17,711.74 L261.14,708.48 L262.31,705.21 L263.67,701.97 L265.21,698.76 L266.92,695.62 L268.78,692.57 L270.79,689.64 L272.92,686.83 L275.16,684.19 L277.50,681.72 L279.91,679.45 L282.38,677.40 L284.89,675.57 L287.41,673.98 L289.94,672.65 L292.45,671.58 L294.92,670.79 L297.33,670.27 L299.66,670.04 L301.90,670.09 L304.04,670.43 L306.04,671.05 L307.90,671.94" stroke-width="1.1" />
<path d="M264.74,741.71 L263.03,740.54 L261.49,739.11 L260.14,737.43 L258.97,735.52 L258.00,733.38 L257.24,731.03 L256.70,728.50 L256.37,725.80 L256.26,722.94 L256.37,719.96 L256.70,716.88 L257.25,713.71 L258.01,710.49 L258.98,707.23 L260.15,703.96 L261.50,700.72 L263.04,697.51 L264.75,694.37 L266.62,691.32 L268.62,688.39 L270.76,685.58 L273.00,682.94 L275.34,680.47 L277.75,678.20 L280.22,676.15 L282.72,674.32 L285.25,672.73 L287.78,671.40 L290.28,670.33 L292.75,669.54 L295.16,669.02 L297.50,668.79 L299.74,668.84 L301.87,669.18 L303.88,669.80 L305.74,670.69" stroke-width="1.1" />
<path d="M262.14,740.21 L260.43,739.04 L258.90,737.61 L257.54,735.93 L256.37,734.02 L255.40,731.88 L254.64,729.53 L254.10,727.00 L253.77,724.30 L253.66,721.44 L253.77,718.46 L254.10,715.38 L254.65,712.21 L255.41,708.99 L256.38,705.73 L257.55,702.46 L258.91,699.22 L260.45,696.01 L262.16,692.87 L264.02,689.82 L266.03,686.89 L268.16,684.08 L270.40,681.44 L272.74,678.97 L275.15,676.70 L277.62,674.65 L280.13,672.82 L282.65,671.23 L285.18,669.90 L287.68,668.83 L290.15,668.04 L292.56,667.52 L294.90,667.29 L297.14,667.34 L299.27,667.68 L301.28,668.30 L303.14,669.19" stroke-width="1.5" />
<path d="M314.40,675.69 L303.14,669.19" stroke-width="1.4" />
<path d="M273.40,746.71 L262.14,740.21" stroke-width="1.4" />
<path d="M308.34,687.78 L309.49,688.57 L310.52,689.52 L311.43,690.65 L312.21,691.93 L312.86,693.37 L313.37,694.94 L313.74,696.64 L313.96,698.46 L314.03,700.37 L313.96,702.37 L313.74,704.44 L313.37,706.56 L312.86,708.73 L312.21,710.91 L311.42,713.10 L310.51,715.28 L309.48,717.43 L308.33,719.53 L307.08,721.58 L305.74,723.55 L304.31,725.43 L302.80,727.20 L301.24,728.86 L299.62,730.38 L297.96,731.76 L296.28,732.99 L294.59,734.05 L292.89,734.94 L291.21,735.66 L289.56,736.19 L287.94,736.54 L286.37,736.69 L284.87,736.66 L283.44,736.43 L282.09,736.02 L280.84,735.42 L279.70,734.63 L278.67,733.68 L277.75,732.55 L276.97,731.27 L276.32,729.83 L275.81,728.26 L275.45,726.56 L275.23,724.74 L275.15,722.83 L275.23,720.83 L275.45,718.76 L275.82,716.64 L276.33,714.47 L276.98,712.29 L277.76,710.10 L278.67,707.92 L279.71,705.77 L280.85,703.67 L282.10,701.62 L283.45,699.65 L284.88,697.77 L286.38,696.00 L287.95,694.34 L289.57,692.82 L291.22,691.44 L292.90,690.21 L294.60,689.15 L296.29,688.26 L297.97,687.54 L299.63,687.01 L301.25,686.66 L302.81,686.51 L304.32,686.54 L305.75,686.77 L307.09,687.18 L308.34,687.78 Z" stroke-width="1.2" />
<path d="M304.85,689.23 L305.87,689.93 L306.79,690.78 L307.60,691.79 L308.30,692.93 L308.88,694.21 L309.33,695.61 L309.66,697.12 L309.85,698.74 L309.92,700.45 L309.85,702.23 L309.66,704.07 L309.33,705.96 L308.87,707.89 L308.29,709.84 L307.60,711.79 L306.78,713.73 L305.86,715.64 L304.84,717.52 L303.73,719.34 L302.53,721.10 L301.26,722.77 L299.92,724.35 L298.52,725.82 L297.08,727.18 L295.60,728.41 L294.10,729.50 L292.60,730.45 L291.09,731.25 L289.59,731.88 L288.11,732.36 L286.67,732.67 L285.28,732.80 L283.94,732.77 L282.66,732.57 L281.46,732.20 L280.35,731.67 L279.33,730.97 L278.41,730.12 L277.60,729.11 L276.90,727.97 L276.32,726.69 L275.87,725.29 L275.54,723.78 L275.35,722.16 L275.28,720.45 L275.35,718.67 L275.55,716.83 L275.87,714.94 L276.33,713.01 L276.91,711.06 L277.61,709.11 L278.42,707.17 L279.34,705.26 L280.36,703.38 L281.47,701.56 L282.67,699.80 L283.95,698.13 L285.29,696.55 L286.68,695.08 L288.12,693.72 L289.60,692.49 L291.10,691.40 L292.61,690.45 L294.12,689.65 L295.61,689.02 L297.09,688.54 L298.53,688.23 L299.93,688.10 L301.27,688.13 L302.54,688.33 L303.74,688.70 L304.85,689.23 Z" stroke-width="1.0" />
<path d="M364.30,705.99 L366.01,707.16 L367.55,708.59 L368.90,710.27 L370.07,712.18 L371.04,714.32 L371.80,716.67 L372.34,719.20 L372.67,721.90 L372.78,724.76 L372.67,727.74 L372.34,730.82 L371.79,733.99 L371.03,737.21 L370.06,740.47 L368.89,743.74 L367.54,746.98 L366.00,750.19 L364.29,753.33 L362.42,756.38 L360.42,759.31 L358.28,762.12 L356.04,764.76 L353.70,767.23 L351.29,769.50 L348.82,771.55 L346.32,773.38 L343.79,774.97 L341.26,776.30 L338.76,777.37 L336.29,778.16 L333.88,778.68 L331.54,778.91 L329.30,778.86 L327.17,778.52 L325.16,777.90 L323.30,777.01 L321.59,775.84 L320.05,774.41 L318.70,772.73 L317.53,770.82 L316.56,768.68 L315.80,766.33 L315.26,763.80 L314.93,761.10 L314.82,758.24 L314.93,755.26 L315.26,752.18 L315.81,749.01 L316.57,745.79 L317.54,742.53 L318.71,739.26 L320.06,736.02 L321.60,732.81 L323.31,729.67 L325.18,726.62 L327.18,723.69 L329.32,720.88 L331.56,718.24 L333.90,715.77 L336.31,713.50 L338.78,711.45 L341.28,709.62 L343.81,708.03 L346.34,706.70 L348.84,705.63 L351.31,704.84 L353.72,704.32 L356.06,704.09 L358.30,704.14 L360.43,704.48 L362.44,705.10 L364.30,705.99 Z" stroke-width="1.6" />
<path d="M321.13,775.76 L319.43,774.59 L317.89,773.16 L316.53,771.48 L315.36,769.57 L314.40,767.43 L313.64,765.08 L313.09,762.55 L312.76,759.85 L312.65,756.99 L312.76,754.01 L313.09,750.93 L313.64,747.76 L314.40,744.54 L315.37,741.28 L316.54,738.01 L317.90,734.77 L319.44,731.56 L321.15,728.42 L323.01,725.37 L325.02,722.44 L327.15,719.63 L329.39,716.99 L331.73,714.52 L334.14,712.25 L336.61,710.20 L339.12,708.37 L341.64,706.78 L344.17,705.45 L346.68,704.38 L349.15,703.59 L351.56,703.07 L353.89,702.84 L356.13,702.89 L358.27,703.23 L360.27,703.85 L362.13,704.74" stroke-width="1.1" />
<path d="M357.25,705.49 L359.14,706.07 L360.88,706.91 L362.49,708.00 L363.93,709.34 L365.21,710.92 L366.30,712.72 L367.21,714.73 L367.92,716.93 L368.44,719.31 L368.75,721.85 L368.85,724.53 L368.75,727.33 L368.43,730.22 L367.92,733.20 L367.21,736.23 L366.30,739.28 L365.20,742.35 L363.92,745.40 L362.48,748.41 L360.87,751.36 L359.12,754.22 L357.24,756.98 L355.23,759.61 L353.13,762.09 L350.93,764.41 L348.67,766.54 L346.35,768.47 L344.00,770.19 L341.63,771.68 L339.25,772.93 L336.90,773.93 L334.58,774.68 L332.32,775.16 L330.13,775.38 L328.02,775.33 L326.02,775.01" stroke-width="1.0" />
<path d="M387.20,718.10 L388.94,719.29 L390.51,720.75 L391.89,722.46 L393.08,724.41 L394.07,726.59 L394.84,728.98 L395.40,731.56 L395.74,734.32 L395.85,737.23 L395.73,740.27 L395.40,743.42 L394.84,746.64 L394.06,749.93 L393.08,753.25 L391.88,756.58 L390.50,759.89 L388.93,763.16 L387.19,766.36 L385.29,769.47 L383.24,772.46 L381.07,775.32 L378.78,778.01 L376.40,780.53 L373.94,782.84 L371.42,784.94 L368.87,786.81 L366.29,788.42 L363.72,789.78 L361.16,790.87 L358.64,791.68 L356.19,792.20 L353.80,792.44 L351.52,792.39 L349.34,792.04 L347.30,791.41 L345.40,790.50 L343.66,789.31 L342.09,787.85 L340.71,786.14 L339.52,784.19 L338.53,782.01 L337.76,779.62 L337.20,777.04 L336.86,774.28 L336.75,771.37 L336.87,768.33 L337.20,765.18 L337.76,761.96 L338.54,758.67 L339.52,755.35 L340.72,752.02 L342.10,748.71 L343.67,745.44 L345.41,742.24 L347.31,739.13 L349.36,736.14 L351.53,733.28 L353.82,730.59 L356.20,728.07 L358.66,725.76 L361.18,723.66 L363.73,721.79 L366.31,720.18 L368.88,718.82 L371.44,717.73 L373.96,716.92 L376.41,716.40 L378.80,716.16 L381.08,716.21 L383.26,716.56 L385.30,717.19 L387.20,718.10 Z" stroke-width="1.8" />
<path d="M343.24,789.25 L341.49,788.06 L339.93,786.60 L338.54,784.89 L337.35,782.94 L336.37,780.76 L335.59,778.37 L335.03,775.79 L334.70,773.03 L334.59,770.12 L334.70,767.08 L335.04,763.93 L335.60,760.71 L336.37,757.42 L337.36,754.10 L338.55,750.77 L339.94,747.46 L341.51,744.19 L343.25,740.99 L345.15,737.88 L347.19,734.89 L349.37,732.03 L351.66,729.34 L354.04,726.82 L356.50,724.51 L359.01,722.41 L361.57,720.54 L364.14,718.93 L366.72,717.57 L369.28,716.48 L371.79,715.67 L374.25,715.15 L376.63,714.91 L378.92,714.96 L381.09,715.31 L383.14,715.94 L385.03,716.85" stroke-width="1.1" />
<path d="M380.04,717.65 L381.95,718.25 L383.74,719.10 L385.37,720.22 L386.84,721.58 L388.14,723.19 L389.25,725.02 L390.18,727.06 L390.90,729.31 L391.43,731.73 L391.74,734.31 L391.84,737.04 L391.74,739.89 L391.42,742.84 L390.90,745.87 L390.17,748.95 L389.24,752.07 L388.13,755.19 L386.83,758.29 L385.36,761.36 L383.72,764.36 L381.94,767.27 L380.02,770.08 L377.98,772.76 L375.84,775.29 L373.60,777.65 L371.30,779.82 L368.94,781.79 L366.54,783.53 L364.13,785.05 L361.71,786.32 L359.31,787.34 L356.95,788.10 L354.65,788.60 L352.42,788.82 L350.27,788.77 L348.23,788.45" stroke-width="1.0" />
<path d="M232.0,677.2 L259.0,692.7 M292.0,711.6 L318.0,726.5 M329.7,733.2 L340.2,739.2 M351.4,745.6 L380.4,762.3 M383.6,764.1 L393.2,769.6" stroke-width="0.9" />
<path d="M395.00,822.10 L393.17,820.85 L391.52,819.32 L390.06,817.52 L388.81,815.46 L387.77,813.17 L386.95,810.65 L386.37,807.93 L386.01,805.03 L385.90,801.97 L386.02,798.77 L386.37,795.46 L386.96,792.06 L387.78,788.60 L388.82,785.10 L390.07,781.60 L391.53,778.12 L393.18,774.68 L395.01,771.31 L397.02,768.03 L399.17,764.88 L401.46,761.88 L403.86,759.04 L406.37,756.39 L408.96,753.95 L411.61,751.75 L414.30,749.78 L417.01,748.08 L419.72,746.65 L422.41,745.51 L425.06,744.65 L427.65,744.10 L430.15,743.85 L432.56,743.91 L434.85,744.27 L437.00,744.93 L439.00,745.90 L446.79,750.40 L448.63,751.65 L450.28,753.18 L451.73,754.98 L452.99,757.04 L454.02,759.33 L454.84,761.85 L455.43,764.57 L455.78,767.47 L455.90,770.53 L455.78,773.73 L455.42,777.04 L454.83,780.44 L454.02,783.90 L452.98,787.40 L451.72,790.90 L450.27,794.38 L448.61,797.82 L446.78,801.19 L444.78,804.47 L442.63,807.62 L440.34,810.62 L437.93,813.46 L435.42,816.11 L432.83,818.55 L430.19,820.75 L427.49,822.72 L424.78,824.42 L422.07,825.85 L419.38,826.99 L416.73,827.85 L414.15,828.40 L411.64,828.65 L409.23,828.59 L406.95,828.23 L404.79,827.57 L402.79,826.60 Z" fill="#fff" stroke="none"/>
<path d="M395.00,822.10 L393.17,820.85 L391.52,819.32 L390.06,817.52 L388.81,815.46 L387.77,813.17 L386.95,810.65 L386.37,807.93 L386.01,805.03 L385.90,801.97 L386.02,798.77 L386.37,795.46 L386.96,792.06 L387.78,788.60 L388.82,785.10 L390.07,781.60 L391.53,778.12 L393.18,774.68 L395.01,771.31 L397.02,768.03 L399.17,764.88 L401.46,761.88 L403.86,759.04 L406.37,756.39 L408.96,753.95 L411.61,751.75 L414.30,749.78 L417.01,748.08 L419.72,746.65 L422.41,745.51 L425.06,744.65 L427.65,744.10 L430.15,743.85 L432.56,743.91 L434.85,744.27 L437.00,744.93 L439.00,745.90" stroke-width="1.6" />
<path d="M396.73,823.10 L394.90,821.85 L393.25,820.32 L391.79,818.52 L390.54,816.46 L389.50,814.17 L388.69,811.65 L388.10,808.93 L387.75,806.03 L387.63,802.97 L387.75,799.77 L388.10,796.46 L388.69,793.06 L389.51,789.60 L390.55,786.10 L391.80,782.60 L393.26,779.12 L394.91,775.68 L396.75,772.31 L398.75,769.03 L400.90,765.88 L403.19,762.88 L405.60,760.04 L408.10,757.39 L410.69,754.95 L413.34,752.75 L416.03,750.78 L418.74,749.08 L421.45,747.65 L424.14,746.51 L426.79,745.65 L429.38,745.10 L431.89,744.85 L434.29,744.91 L436.58,745.27 L438.73,745.93 L440.73,746.90" stroke-width="1.0" />
<path d="M398.46,824.10 L396.63,822.85 L394.98,821.32 L393.52,819.52 L392.27,817.46 L391.23,815.17 L390.42,812.65 L389.83,809.93 L389.48,807.03 L389.36,803.97 L389.48,800.77 L389.84,797.46 L390.42,794.06 L391.24,790.60 L392.28,787.10 L393.53,783.60 L394.99,780.12 L396.64,776.68 L398.48,773.31 L400.48,770.03 L402.63,766.88 L404.92,763.88 L407.33,761.04 L409.84,758.39 L412.42,755.95 L415.07,753.75 L417.76,751.78 L420.47,750.08 L423.18,748.65 L425.87,747.51 L428.52,746.65 L431.11,746.10 L433.62,745.85 L436.02,745.91 L438.31,746.27 L440.46,746.93 L442.46,747.90" stroke-width="1.0" />
<path d="M400.20,825.10 L398.36,823.85 L396.71,822.32 L395.26,820.52 L394.00,818.46 L392.97,816.17 L392.15,813.65 L391.56,810.93 L391.21,808.03 L391.09,804.97 L391.21,801.77 L391.57,798.46 L392.16,795.06 L392.97,791.60 L394.01,788.10 L395.27,784.60 L396.72,781.12 L398.38,777.68 L400.21,774.31 L402.21,771.03 L404.36,767.88 L406.65,764.88 L409.06,762.04 L411.57,759.39 L414.16,756.95 L416.80,754.75 L419.50,752.78 L422.21,751.08 L424.92,749.65 L427.61,748.51 L430.26,747.65 L432.84,747.10 L435.35,746.85 L437.76,746.91 L440.04,747.27 L442.20,747.93 L444.20,748.90" stroke-width="1.0" />
<path d="M446.79,750.40 L448.63,751.65 L450.28,753.18 L451.73,754.98 L452.99,757.04 L454.02,759.33 L454.84,761.85 L455.43,764.57 L455.78,767.47 L455.90,770.53 L455.78,773.73 L455.42,777.04 L454.83,780.44 L454.02,783.90 L452.98,787.40 L451.72,790.90 L450.27,794.38 L448.61,797.82 L446.78,801.19 L444.78,804.47 L442.63,807.62 L440.34,810.62 L437.93,813.46 L435.42,816.11 L432.83,818.55 L430.19,820.75 L427.49,822.72 L424.78,824.42 L422.07,825.85 L419.38,826.99 L416.73,827.85 L414.15,828.40 L411.64,828.65 L409.23,828.59 L406.95,828.23 L404.79,827.57 L402.79,826.60 L400.96,825.35 L399.31,823.82 L397.85,822.02 L396.60,819.96 L395.56,817.67 L394.75,815.15 L394.16,812.43 L393.81,809.53 L393.69,806.47 L393.81,803.27 L394.17,799.96 L394.75,796.56 L395.57,793.10 L396.61,789.60 L397.86,786.10 L399.32,782.62 L400.97,779.18 L402.81,775.81 L404.81,772.53 L406.96,769.38 L409.25,766.38 L411.66,763.54 L414.17,760.89 L416.75,758.45 L419.40,756.25 L422.09,754.28 L424.80,752.58 L427.51,751.15 L430.20,750.01 L432.85,749.15 L435.44,748.60 L437.95,748.35 L440.35,748.41 L442.64,748.77 L444.79,749.43 L446.79,750.40 Z" stroke-width="1.4" />
<path d="M439.00,745.90 L446.79,750.40" stroke-width="1.4" />
<path d="M395.00,822.10 L402.79,826.60" stroke-width="1.4" />
<path d="M408.79,816.21 L407.46,815.30 L406.26,814.19 L405.20,812.88 L404.29,811.38 L403.54,809.71 L402.94,807.88 L402.52,805.91 L402.26,803.79 L402.17,801.57 L402.26,799.24 L402.52,796.83 L402.95,794.36 L403.54,791.84 L404.30,789.30 L405.21,786.75 L406.27,784.22 L407.47,781.72 L408.80,779.27 L410.26,776.89 L411.83,774.60 L413.49,772.41 L415.24,770.35 L417.06,768.42 L418.95,766.65 L420.87,765.04 L422.83,763.61 L424.80,762.38 L426.77,761.34 L428.73,760.50 L430.66,759.88 L432.54,759.48 L434.36,759.30 L436.11,759.34 L437.77,759.61 L439.34,760.09 L440.79,760.79 L464.50,773.59 L465.83,774.50 L467.03,775.61 L468.09,776.92 L469.00,778.42 L469.76,780.09 L470.35,781.92 L470.78,783.89 L471.03,786.01 L471.12,788.23 L471.03,790.56 L470.78,792.97 L470.35,795.44 L469.75,797.96 L469.00,800.50 L468.09,803.05 L467.03,805.58 L465.82,808.08 L464.49,810.53 L463.03,812.91 L461.47,815.20 L459.80,817.39 L458.05,819.45 L456.23,821.38 L454.35,823.15 L452.42,824.76 L450.46,826.19 L448.49,827.42 L446.52,828.46 L444.56,829.30 L442.64,829.92 L440.76,830.32 L438.93,830.50 L437.18,830.46 L435.52,830.19 L433.95,829.71 L432.50,829.01 Z" fill="#fff" stroke="none"/>
<path d="M464.50,773.59 L465.83,774.50 L467.03,775.61 L468.09,776.92 L469.00,778.42 L469.76,780.09 L470.35,781.92 L470.78,783.89 L471.03,786.01 L471.12,788.23 L471.03,790.56 L470.78,792.97 L470.35,795.44 L469.75,797.96 L469.00,800.50 L468.09,803.05 L467.03,805.58 L465.82,808.08 L464.49,810.53 L463.03,812.91 L461.47,815.20 L459.80,817.39 L458.05,819.45 L456.23,821.38 L454.35,823.15 L452.42,824.76 L450.46,826.19 L448.49,827.42 L446.52,828.46 L444.56,829.30 L442.64,829.92 L440.76,830.32 L438.93,830.50 L437.18,830.46 L435.52,830.19 L433.95,829.71 L432.50,829.01 L431.17,828.10 L429.97,826.99 L428.91,825.68 L428.00,824.18 L427.24,822.51 L426.65,820.68 L426.22,818.71 L425.97,816.59 L425.88,814.37 L425.97,812.04 L426.22,809.63 L426.65,807.16 L427.25,804.64 L428.00,802.10 L428.91,799.55 L429.97,797.02 L431.18,794.52 L432.51,792.07 L433.97,789.69 L435.53,787.40 L437.20,785.21 L438.95,783.15 L440.77,781.22 L442.65,779.45 L444.58,777.84 L446.54,776.41 L448.51,775.18 L450.48,774.14 L452.44,773.30 L454.36,772.68 L456.24,772.28 L458.07,772.10 L459.82,772.14 L461.48,772.41 L463.05,772.89 L464.50,773.59 Z" stroke-width="1.5" />
<path d="M464.50,773.59 L440.79,760.79" stroke-width="1.4" />
<path d="M432.50,829.01 L408.79,816.21" stroke-width="1.4" />
<path d="M439.19,777.45 L440.47,776.36 L441.76,775.35 L443.07,774.41 L444.39,773.57 L445.70,772.81 L447.01,772.14 L448.32,771.56 L449.62,771.07 L450.90,770.68 L452.16,770.39 L453.39,770.20 L454.60,770.10" stroke-width="1.0" />
<path d="M426.50,824.99 L425.87,824.25 L425.28,823.44 L424.75,822.57 L424.26,821.65 L423.83,820.66 L423.46,819.62 L423.14,818.52 L422.88,817.38 L422.68,816.19 L422.53,814.95 L422.44,813.68 L422.42,812.37" stroke-width="1.0" />
<path d="M440.6,809.6 L460.6,797.8" stroke-width="2.8"/>
<path d="M441.2,809 L460,798.2" stroke="#fff" stroke-width="0.8" stroke-dasharray="1 1"/>
<circle cx="451" cy="796.2" r="1.4" stroke-width="0.9"/>
<circle cx="451" cy="810.4" r="1.4" stroke-width="0.9"/>
<path d="M458,806.7 L503.9,832.6" stroke-width="0.9" />
</g>
<g transform="translate(0.0 0.0) scale(1.000000)">
<path d="M632.5,713.4 L635.5,710 L640,710.5 L647.2,716.1 L669.3,729.9 L668.4,739.1 L661,757.4 L639.9,751.9 L624.3,750.1 L616.9,744.6 L628,731.7 Z" fill="url(#hatchA)" stroke-width="1.3"/>
<path d="M641.7,724.4 L660.1,731.7 L654.6,751.9 L635.3,744.6 Z" fill="url(#hatchB)" stroke-width="1.2"/>
<path d="M633,710.5 Q636,708 640,710.5 L639,714 L633.5,713.5 Z M616,744 Q613.5,747.5 616.5,750 L620,749 L619.5,744.5 Z" fill="#333" stroke-width="1"/>
<path d="M653.5,716 L660,714.5 L664,719 L657.5,721 Z" stroke-width="1.1"/>
<path d="M633.5,674 L606,718 Q599,732 598,748 L598,780 Q599,792 606,802 L631,849 Q634,853 639,854.5" stroke-width="1.6"/>
</g>
<g transform="translate(600.0 660.0) scale(0.137773)">
<path d="M240,102 Q260,86 292,86 L430,86 Q466,96 469,132 L469,252" stroke-width="1.6"/>
<circle cx="362" cy="160" r="50" stroke-width="1.3"/>
<circle cx="362" cy="160" r="32"/>
<circle cx="60" cy="745" r="45" stroke-width="1.3"/>
<circle cx="60" cy="745" r="29"/>
<path d="M425,292 L545,244 L558,270 Q590,322 642,347 L644,507 Q600,517 560,507 L500,547" stroke-width="1.5"/>
<path d="M470,302 Q520,352 550,422 Q562,482 556,502 M440,292 Q480,332 492,382"/>
<path d="M545,244 Q600,300 640,345"/>
<path d="M390,410 L395,395 L440,405 L455,430 L445,440 L395,425 Z"/>
</g>
<g transform="translate(580 740) scale(0.137778)">
<path d="M370,792 Q390,827 430,832 L560,832 Q602,822 607,782 L607,652" stroke-width="1.6"/>
<circle cx="505" cy="750" r="50" stroke-width="1.3"/>
<circle cx="505" cy="750" r="30"/>
<circle cx="205" cy="165" r="45" stroke-width="1.3"/>
<circle cx="205" cy="165" r="28"/>
<path d="M275,135 L275,175 M275,140 L300,135 L300,170"/>
<path d="M270,302 Q310,452 430,557 Q540,642 690,670" stroke-width="1.5"/>
<path d="M300,292 Q340,432 450,532 Q560,612 690,642"/>
<path d="M690,670 L722,617 Q762,522 802,414 L787,397 Q722,407 652,387" stroke-width="1.5"/>
<path d="M620,602 Q660,522 762,482"/>
<path d="M345,247 L540,182 L600,252 L640,342 L480,422 L470,452 L492,502 L545,492 L640,462"/>
<path d="M555,160 L600,252"/>
<path d="M370,272 L530,217 L545,237 L380,292 Z M480,422 L640,367 L645,387 L490,442 Z" fill="#333"/>
<path d="M392,302 L465,442 L478,438 L405,298 Z" fill="#555"/>
<path d="M265,290 L300,285 L312,330 L278,340 Z M385,505 L420,500 L432,545 L398,555 Z" stroke-width="1.3"/>
<path d="M525,490 L575,470 L600,462 M540,505 L590,485"/>
<path d="M350,200 L420,175 M410,150 L440,140"/>
</g>
<g transform="translate(0.0 0.0) scale(1.000000)">
<path d="M63.3,210.8 L43.2,198.9 L43.2,474.4 L503.9,739.7 L503.9,832.6" stroke-dasharray="30 4 2 4" stroke-width="1"/>
<path d="M245.3,120 L245.3,300" stroke-dasharray="14 3 2 3"/>
<path d="M673.3,368 L673.3,494" stroke-dasharray="14 3 2 3"/>
<path d="M592,440 L667,482" stroke-dasharray="14 3 2 3"/>
<path d="M566,513.7 L612,541" stroke-dasharray="14 3 2 3"/>
</g>
<g transform="translate(0.0 0.0) scale(1.000000)">
<path d="M184.0,98.5 L200.6,126.0" stroke-width="0.9"/>
<path d="M205.8,134.6 L199.0,127.0 L202.3,125.1 Z" fill="#111" stroke="none"/>
<path d="M289.0,161.6 L282.9,200.7" stroke-width="0.9"/>
<path d="M281.4,210.6 L281.1,200.4 L284.8,201.0 Z" fill="#111" stroke="none"/>
<path d="M324.1,195.5 L305.1,230.6" stroke-width="0.9"/>
<path d="M300.3,239.4 L303.4,229.7 L306.7,231.5 Z" fill="#111" stroke="none"/>
<path d="M366.8,234.4 L328.3,314.0" stroke-width="0.9"/>
<path d="M324.0,323.0 L326.6,313.2 L330.1,314.8 Z" fill="#111" stroke="none"/>
<path d="M383.2,281.0 L351.9,333.8" stroke-width="0.9"/>
<path d="M346.8,342.4 L350.3,332.8 L353.5,334.8 Z" fill="#111" stroke="none"/>
<path d="M404.8,319.6 L386.6,344.6" stroke-width="0.9"/>
<path d="M380.7,352.7 L385.1,343.5 L388.1,345.7 Z" fill="#111" stroke="none"/>
<path d="M246.4,484.0 L263.4,454.2" stroke-width="0.9"/>
<path d="M268.4,445.5 L265.1,455.1 L261.8,453.2 Z" fill="#111" stroke="none"/>
<path d="M372.2,497.6 L391.3,465.8" stroke-width="0.9"/>
<path d="M396.4,457.2 L392.9,466.8 L389.6,464.8 Z" fill="#111" stroke="none"/>
<path d="M499.0,43.1 L510.8,71.9" stroke-width="0.9"/>
<path d="M514.6,81.2 L509.1,72.7 L512.6,71.2 Z" fill="#111" stroke="none"/>
<path d="M499.0,43.1 L510.5,85.7" stroke-width="0.9"/>
<path d="M513.1,95.4 L508.7,86.2 L512.3,85.3 Z" fill="#111" stroke="none"/>
<path d="M516.9,134.9 L536.6,115.2" stroke-width="0.9"/>
<path d="M543.7,108.1 L538.0,116.5 L535.3,113.8 Z" fill="#111" stroke="none"/>
<path d="M516.9,134.9 L534.9,125.4" stroke-width="0.9"/>
<path d="M543.7,120.7 L535.8,127.1 L534.0,123.7 Z" fill="#111" stroke="none"/>
<path d="M640.0,111.0 L624.7,115.0" stroke-width="0.9"/>
<path d="M615.0,117.5 L624.2,113.1 L625.2,116.8 Z" fill="#111" stroke="none"/>
<path d="M705.8,296.8 L685.7,331.5" stroke-width="0.9"/>
<path d="M680.7,340.2 L684.1,330.6 L687.4,332.5 Z" fill="#111" stroke="none"/>
<path d="M444.6,566.5 L471.3,540.5" stroke-width="0.9"/>
<path d="M478.5,533.5 L472.7,541.8 L470.0,539.1 Z" fill="#111" stroke="none"/>
<path d="M481.0,629.0 L510.0,603.1" stroke-width="0.9"/>
<path d="M517.5,596.5 L511.3,604.6 L508.8,601.7 Z" fill="#111" stroke="none"/>
<path d="M560.0,361.5 L539.6,387.6" stroke-width="0.9"/>
<path d="M533.5,395.5 L538.1,386.4 L541.1,388.8 Z" fill="#111" stroke="none"/>
<path d="M725.0,443.0 L704.2,479.3" stroke-width="0.9"/>
<path d="M699.2,488.0 L702.5,478.4 L705.8,480.3 Z" fill="#111" stroke="none"/>
<path d="M745.5,479.0 L746.4,511.0" stroke-width="0.9"/>
<path d="M746.7,521.0 L744.5,511.1 L748.3,510.9 Z" fill="#111" stroke="none"/>
<path d="M761.4,587.4 L759.3,555.1" stroke-width="0.9"/>
<path d="M758.7,545.1 L761.2,555.0 L757.4,555.2 Z" fill="#111" stroke="none"/>
<path d="M699.0,598.4 L726.8,540.3" stroke-width="0.9"/>
<path d="M731.1,531.3 L728.5,541.1 L725.1,539.5 Z" fill="#111" stroke="none"/>
<path d="M193.0,748.0 L208.6,725.8" stroke-width="0.9"/>
<path d="M214.3,717.6 L210.1,726.9 L207.0,724.7 Z" fill="#111" stroke="none"/>
<path d="M251.2,789.0 L264.4,759.1" stroke-width="0.9"/>
<path d="M268.5,750.0 L266.2,759.9 L262.7,758.4 Z" fill="#111" stroke="none"/>
<path d="M308.0,823.0 L319.4,787.5" stroke-width="0.9"/>
<path d="M322.5,778.0 L321.2,788.1 L317.6,786.9 Z" fill="#111" stroke="none"/>
<path d="M350.4,840.0 L353.2,804.0" stroke-width="0.9"/>
<path d="M354.0,794.0 L355.1,804.1 L351.3,803.8 Z" fill="#111" stroke="none"/>
<path d="M420.5,850.0 L422.0,838.9" stroke-width="0.9"/>
<path d="M423.4,829.0 L423.9,839.2 L420.1,838.6 Z" fill="#111" stroke="none"/>
<path d="M594.0,704.0 L619.8,722.2" stroke-width="0.9"/>
<path d="M628.0,728.0 L618.7,723.8 L620.9,720.7 Z" fill="#111" stroke="none"/>
<path d="M701.0,777.0 L674.7,758.3" stroke-width="0.9"/>
<path d="M666.5,752.5 L675.8,756.7 L673.6,759.8 Z" fill="#111" stroke="none"/>
<path d="M585.0,798.0 L630.9,758.2" stroke-width="0.9"/>
<path d="M638.5,751.6 L632.2,759.6 L629.7,756.7 Z" fill="#111" stroke="none"/>
</g>
</g>
<!-- callout boxes -->
<g fill="none" stroke="#000" stroke-width="3" stroke-linejoin="miter">
<path d="M474.6,270.3 L450.6,270.3 L450.6,1.3 L674.5,1.3 L674.5,270.3 L494.3,270.3 L442,388.5 Z"/>
<path d="M558.5,645 L539,645 L539,869.6 L763.3,869.6 L763.3,645 L576.4,645 L540,567 Z"/>
</g>
<g id="labels">
<text class="t" x="173" y="80.2">Stabilizer</text>
<text class="t" x="173" y="96">Liner</text>
<text class="t" x="295.4" y="124">Retainer</text>
<text class="t" x="295.4" y="140">Hex-head</text>
<text class="t" x="295.4" y="156">Screw</text>
<text class="t" x="338.6" y="173">Hinge Pin</text>
<text class="t" x="338.6" y="189">Retainer</text>
<text class="t" x="372.5" y="214">Rod</text>
<text class="t" x="372.5" y="230">Seal</text>
<text class="t" x="396" y="260">Wiper</text>
<text class="t" x="396" y="275.5">Rod</text>
<text class="t" x="419.3" y="301">Rear</text>
<text class="t" x="419.3" y="316.6">Jaw</text>
<text class="t" x="498.3" y="23.2">Socket-head</text>
<text class="t" x="498.3" y="38.6">Capscrews</text>
<text class="t" x="655.7" y="110.9">Jaw</text>
<text class="t" x="494.2" y="148">Hi-collar</text>
<text class="t" x="494.2" y="163.2">Washers</text>
<text class="t" x="716.4" y="277">Stabilizer</text>
<text class="t" x="716.4" y="292.6">Liner</text>
<text class="t" x="566" y="357">Screw</text>
<text class="t" x="734.3" y="421.5">Front</text>
<text class="t" x="734.3" y="437.6">Stabilizer</text>
<text class="t" x="749" y="475.5">Washer</text>
<text class="t" x="239.6" y="497.6">Hinge</text>
<text class="t" x="239.6" y="512.4">Pin</text>
<text class="t" x="362.5" y="510.3">Front</text>
<text class="t" x="362.5" y="525.8">Jaw</text>
<text class="t" x="435" y="578.5">Gate</text>
<text class="t" x="465.5" y="645.7">Front</text>
<text class="t" x="465.5" y="661.9">Stabbing</text>
<text class="t" x="465.5" y="676.7">Guide</text>
<text class="t" x="691" y="613.4">Spring</text>
<text class="t" x="762" y="599.4">Nut</text>
<text class="t" x="725" y="665">Front</text>
<text class="t" x="725" y="680.5">Stabbing</text>
<text class="t" x="725" y="696.6">Guide</text>
<text class="t" x="583.9" y="697.9">Retainer</text>
<text class="t" x="719" y="789">Arm Guide</text>
<text class="t" x="573.4" y="809.3">Spring</text>
<text class="t" x="171.7" y="760.1">Cylinder</text>
<text class="t" x="171.7" y="775.9">Head</text>
<text class="t" x="171.7" y="791.4">Ring</text>
<text class="t" x="245.9" y="800.5">Cylinder</text>
<text class="t" x="245.9" y="816.3">Head</text>
<text class="t" x="302.7" y="832.1">Piston</text>
<text class="t" x="302.7" y="847.6">Seal</text>
<text class="t" x="348" y="851.2">Piston</text>
<text class="t" x="348" y="866.7">Seal</text>
<text class="t" x="417.8" y="865.9">Piston</text>
</g>
<g id="wm">
<g transform="translate(83.3 393) rotate(-28)"><text class="wm" transform="translate(22.75 0) scale(0.75 1)" text-anchor="middle">E</text><text class="wm" transform="translate(89.05 0) scale(0.85 1)" text-anchor="middle">V</text><text class="wm" transform="translate(155.35 0) scale(0.75 1)" text-anchor="middle">E</text><text class="wm" transform="translate(224.4 0) scale(0.85 1)" text-anchor="middle">R</text><text class="wm" transform="translate(298.95 0) scale(0.85 1)" text-anchor="middle">G</text><text class="wm" transform="translate(373.5 0) scale(0.85 1)" text-anchor="middle">R</text><text class="wm" transform="translate(448.05 0) scale(0.85 1)" text-anchor="middle">O</text><text class="wm" transform="translate(559 0) scale(1.0 1)" text-anchor="middle">W</text></g>
<g transform="translate(202.5 779) rotate(-28)"><text class="wm" transform="translate(22.75 0) scale(0.75 1)" text-anchor="middle">E</text><text class="wm" transform="translate(89.05 0) scale(0.85 1)" text-anchor="middle">V</text><text class="wm" transform="translate(155.35 0) scale(0.75 1)" text-anchor="middle">E</text><text class="wm" transform="translate(224.4 0) scale(0.85 1)" text-anchor="middle">R</text><text class="wm" transform="translate(298.95 0) scale(0.85 1)" text-anchor="middle">G</text><text class="wm" transform="translate(373.5 0) scale(0.85 1)" text-anchor="middle">R</text><text class="wm" transform="translate(448.05 0) scale(0.85 1)" text-anchor="middle">O</text><text class="wm" transform="translate(559 0) scale(1.0 1)" text-anchor="middle">W</text></g>
</g>
</svg>
</body></html>
